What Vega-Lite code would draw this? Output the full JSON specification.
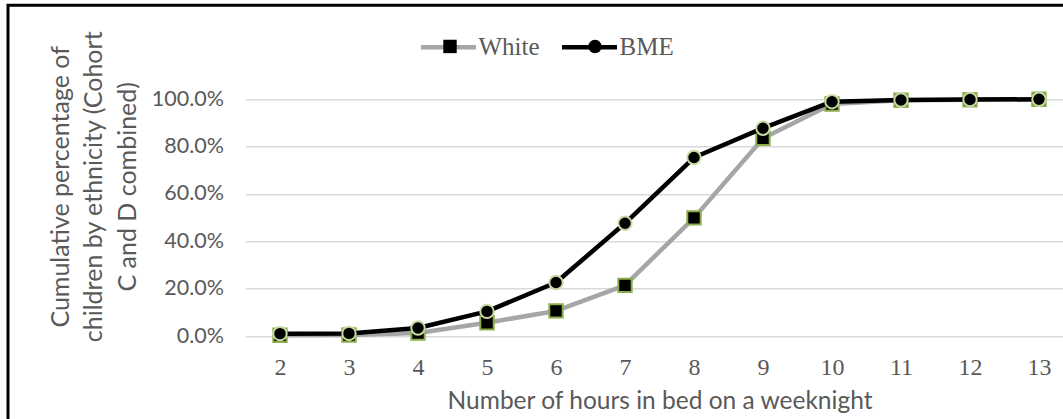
{
  "$schema": "https://vega.github.io/schema/vega-lite/v6.json",
  "width": 828,
  "height": 236.7,
  "autosize": "none",
  "padding": {"left": 245.5, "top": 99.3, "right": -10.5, "bottom": 83},
  "background": "white",
  "config": {"view": {"stroke": null}},
  "data": {"values": [
    {"hours": 2, "series": "White", "pct": 0.003},
    {"hours": 3, "series": "White", "pct": 0.004},
    {"hours": 4, "series": "White", "pct": 0.013},
    {"hours": 5, "series": "White", "pct": 0.056},
    {"hours": 6, "series": "White", "pct": 0.106},
    {"hours": 7, "series": "White", "pct": 0.214},
    {"hours": 8, "series": "White", "pct": 0.499},
    {"hours": 9, "series": "White", "pct": 0.835},
    {"hours": 10, "series": "White", "pct": 0.98},
    {"hours": 11, "series": "White", "pct": 0.996},
    {"hours": 12, "series": "White", "pct": 0.998},
    {"hours": 13, "series": "White", "pct": 1.0},
    {"hours": 2, "series": "BME", "pct": 0.010},
    {"hours": 3, "series": "BME", "pct": 0.011},
    {"hours": 4, "series": "BME", "pct": 0.034},
    {"hours": 5, "series": "BME", "pct": 0.104},
    {"hours": 6, "series": "BME", "pct": 0.226},
    {"hours": 7, "series": "BME", "pct": 0.476},
    {"hours": 8, "series": "BME", "pct": 0.754},
    {"hours": 9, "series": "BME", "pct": 0.878},
    {"hours": 10, "series": "BME", "pct": 0.99},
    {"hours": 11, "series": "BME", "pct": 0.997},
    {"hours": 12, "series": "BME", "pct": 0.999},
    {"hours": 13, "series": "BME", "pct": 1.0}
  ]},
  "encoding": {
    "x": {
      "field": "hours", "type": "ordinal",
      "scale": {"padding": 0.5},
      "axis": {
        "title": "Number of hours in bed on a weeknight",
        "labelAngle": 0, "domain": false, "ticks": false, "tickSize": 0, "grid": false,
        "labelFont": "Liberation Serif", "labelFontSize": 24, "labelColor": "#595959",
        "labelBaseline": "alphabetic", "labelPadding": 38,
        "titleFont": "Lato", "titleFontSize": 24.5, "titleFontWeight": "normal", "titleColor": "#595959",
        "titleBaseline": "alphabetic", "titleY": 72
      }
    },
    "y": {
      "field": "pct", "type": "quantitative",
      "scale": {"domain": [0, 1], "nice": false, "zero": true},
      "axis": {
        "values": [0, 0.2, 0.4, 0.6, 0.8, 1.0],
        "format": ".1%",
        "title": ["Cumulative percentage of", "children by ethnicity (Cohort", "C and D combined)"],
        "domain": false, "ticks": false, "tickSize": 0,
        "grid": true, "gridColor": "#D9D9D9", "gridWidth": 1.5,
        "labelFont": "Lato", "labelFontSize": 21.5, "labelColor": "#595959", "labelPadding": 22,
        "titleFont": "Lato", "titleFontSize": 25, "titleFontWeight": "normal", "titleColor": "#595959",
        "titleAngle": -90, "titleAlign": "center", "titleBaseline": "middle",
        "titleX": -185.5, "titleY": 87, "titleLineHeight": 33.5
      }
    }
  },
  "layer": [
    {
      "transform": [{"filter": "datum.series === 'White'"}],
      "mark": {"type": "line", "strokeWidth": 4.5, "strokeJoin": "round", "strokeCap": "round"},
      "encoding": {
        "color": {
          "field": "series", "type": "nominal",
          "scale": {"domain": ["White", "BME"], "range": ["#A6A6A6", "#000000"]},
          "legend": {
            "orient": "none", "legendX": 173, "legendY": -82, "direction": "horizontal",
            "title": null, "symbolType": "stroke", "symbolSize": 3025, "symbolStrokeWidth": 4.5,
            "labelFont": "Liberation Serif", "labelFontSize": 25, "labelColor": "#595959",
            "labelOffset": 0, "columnPadding": 12
          }
        },
        "opacity": {
          "field": "series", "type": "nominal",
          "scale": {"range": [1, 1]},
          "legend": {
            "orient": "none", "legendX": -237.5, "legendY": -94, "direction": "vertical",
            "title": null, "labelExpr": "''", "symbolOpacity": 0, "symbolSize": 1440000,
            "strokeColor": "#000000", "padding": 0, "labelOffset": 0,
            "encode": {"legend": {"update": {"strokeWidth": {"value": 3}}}}
          }
        }
      }
    },
    {
      "transform": [{"filter": "datum.series === 'White'"}],
      "mark": {"type": "point", "filled": true, "fill": "#000000", "strokeWidth": 2, "size": 180, "opacity": 1},
      "encoding": {
        "shape": {
          "field": "series", "type": "nominal", "sort": ["White", "BME"],
          "scale": {"range": ["square", "circle"]},
          "legend": {
            "orient": "none", "legendX": 196.5, "legendY": -61, "direction": "horizontal",
            "title": null, "labelExpr": "''", "labelOffset": 0, "columnPadding": 123,
            "symbolFillColor": "#000000", "symbolStrokeWidth": 2, "symbolSize": 180,
            "encode": {"symbols": {"update": {"stroke": {"signal": "datum.value === 'White' ? '#8AAE4C' : '#C7DBA4'"}, "fill": {"value": "#000000"}}}}
          }
        },
        "stroke": {
          "field": "series", "type": "nominal", "sort": ["White", "BME"],
          "scale": {"range": ["#8AAE4C", "#C7DBA4"]},
          "legend": null
        }
      }
    },
    {
      "transform": [{"filter": "datum.series === 'BME'"}],
      "mark": {"type": "line", "strokeWidth": 4.5, "strokeJoin": "round", "strokeCap": "round"},
      "encoding": {
        "color": {"field": "series", "type": "nominal"}
      }
    },
    {
      "transform": [{"filter": "datum.series === 'BME'"}],
      "mark": {"type": "point", "filled": true, "fill": "#000000", "strokeWidth": 2, "size": 180, "opacity": 1},
      "encoding": {
        "shape": {"field": "series", "type": "nominal", "sort": ["White", "BME"]},
        "stroke": {"field": "series", "type": "nominal", "sort": ["White", "BME"], "legend": null}
      }
    }
  ]
}
